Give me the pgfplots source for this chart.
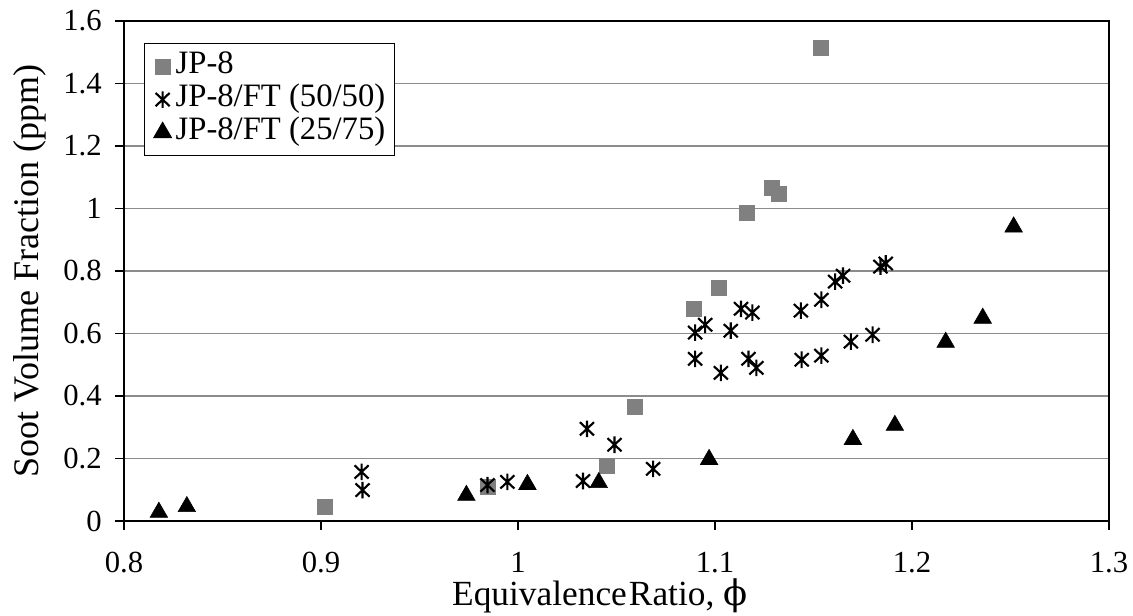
\documentclass[border=0pt]{standalone}
\usepackage{pgfplots}
\pgfplotsset{compat=1.18}
\usepackage{fontspec}
\setmainfont{Liberation Serif}
\newfontfamily\dejavu{DejaVu Serif}
\definecolor{sqgray}{RGB}{128,128,128}
\definecolor{gridgray}{RGB}{140,140,140}
\pgfdeclareplotmark{xstar}{%
  \pgfpathmoveto{\pgfqpoint{-.85\pgfplotmarksize}{-.8\pgfplotmarksize}}%
  \pgfpathlineto{\pgfqpoint{.85\pgfplotmarksize}{.8\pgfplotmarksize}}%
  \pgfpathmoveto{\pgfqpoint{-.85\pgfplotmarksize}{.8\pgfplotmarksize}}%
  \pgfpathlineto{\pgfqpoint{.85\pgfplotmarksize}{-.8\pgfplotmarksize}}%
  \pgfpathmoveto{\pgfqpoint{0pt}{-\pgfplotmarksize}}%
  \pgfpathlineto{\pgfqpoint{0pt}{\pgfplotmarksize}}%
  \pgfusepathqstroke}
\pgfplotstableread{
x y
0.902 0.045
0.9845 0.109
1.045 0.176
1.0595 0.365
1.0894 0.679
1.102 0.747
1.116 0.987
1.129 1.067
1.1325 1.048
1.1538 1.513
}\jpeight
\pgfplotstableread{
x y
0.9206 0.157
0.9211 0.099
0.9845 0.115
0.9946 0.125
1.033 0.128
1.035 0.295
1.049 0.244
1.0686 0.167
1.0899 0.603
1.095 0.628
1.0899 0.519
1.103 0.474
1.108 0.609
1.1132 0.679
1.119 0.667
1.117 0.519
1.121 0.490
1.1436 0.673
1.144 0.516
1.154 0.708
1.154 0.529
1.161 0.766
1.165 0.785
1.169 0.574
1.180 0.596
1.184 0.814
1.1867 0.824
}\fifty
\pgfplotstableread{
x y
0.8177 0.028
0.8319 0.046
0.9738 0.082
1.0048 0.117
1.041 0.123
1.097 0.197
1.170 0.261
1.1913 0.306
1.2171 0.572
1.2359 0.649
1.2516 0.941
}\twentyfive
\begin{document}
\begin{tikzpicture}
\begin{axis}[
  name=ax,
  scale only axis,
  width=738.75pt, height=375pt,
  xmin=0.8, xmax=1.3, ymin=0, ymax=1.6,
  xtick={0.8,0.9,1,1.1,1.2,1.3},
  ytick={0,0.2,0.4,0.6,0.8,1,1.2,1.4,1.6},
  /pgf/number format/assume math mode=true,
  ticklabel style={font=\fontsize{23}{27}\selectfont},
  xticklabel style={yshift=-13pt},
  yticklabel style={xshift=-6.5pt},
  tick align=outside,
  major tick length=6.75pt,
  xtick pos=bottom, ytick pos=left,
  tick style={black, line width=0.8pt},
  axis line style={black, line width=1.4pt},
  ymajorgrids,
  major grid style={gridgray, line width=1.3pt},
  xlabel={Equivalence\hspace{0.06em}Ratio, {\dejavu ϕ}},
  ylabel={Soot Volume Fraction (ppm)},
  xlabel style={font=\fontsize{26.5}{30}\selectfont, at={(axis description cs:0.483,-0.168)}, anchor=base},
  ylabel style={font=\fontsize{27}{30}\selectfont, at={(axis description cs:-0.0954,0.5)}, anchor=center},
  legend style={at={(0.0203,0.956)}, anchor=north west, draw=black, line width=0.8pt,
    font=\fontsize{24.5}{28}\selectfont, inner xsep=7pt, inner ysep=4.9pt, row sep=0pt,
    column sep=0pt,
    nodes={inner sep=0pt, text height=17.5pt, text depth=7.25pt},
    cells={anchor=west}},
  legend cell align=left,
  legend image code/.code={\path[draw=none,fill=none] (0pt,0pt) -- (13.5pt,0pt); \draw[#1] plot coordinates {(3.75pt,0pt)};},
]
\addplot[only marks, mark=square*, mark size=5.6pt, draw=sqgray, fill=sqgray] table {\jpeight};
\addlegendentry{JP-8}
\addplot[only marks, mark=xstar, mark size=6.2pt, black, line width=1.6pt] table {\fifty};
\addlegendentry{JP-8/FT (50/50)}
\addplot[only marks, mark=triangle*, mark size=7.6pt, black] table {\twentyfive};
\addlegendentry{JP-8/FT (25/75)}
\end{axis}
\pgfresetboundingbox
\path[use as bounding box] ([shift={(-93pt,-70.5pt)}]ax.south west) rectangle ([shift={(756.75pt,390.75pt)}]ax.south west);
\end{tikzpicture}
\end{document}
